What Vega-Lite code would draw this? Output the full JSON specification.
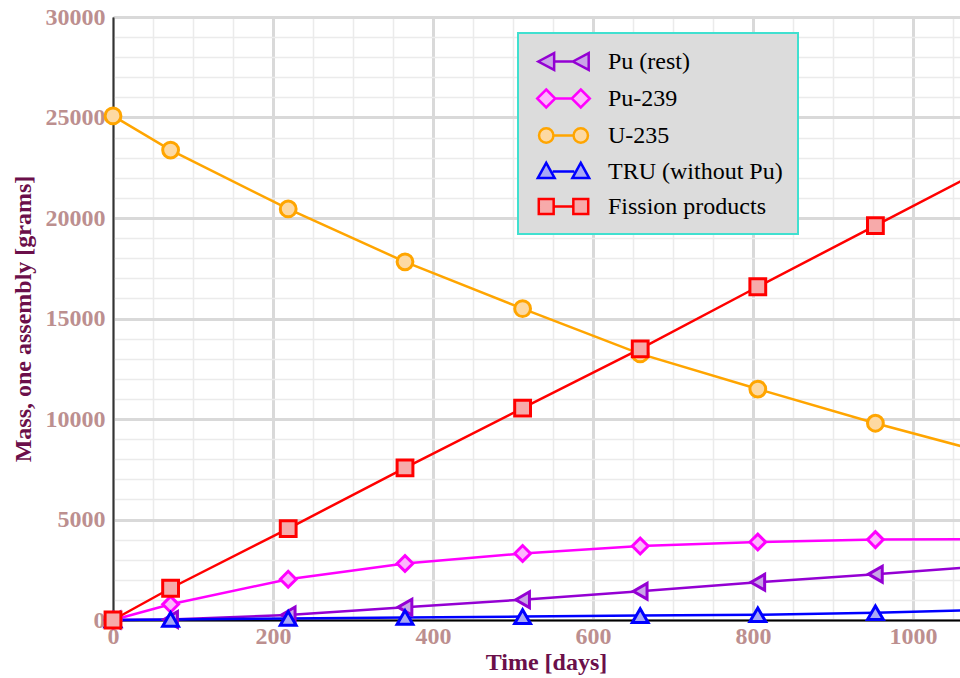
{
  "$schema": "https://vega.github.io/schema/vega-lite/v6.json",
  "width": 866,
  "height": 603,
  "autosize": {"type": "none"},
  "padding": {"left": 113, "top": 17, "right": 0, "bottom": 58},
  "background": "white",
  "config": {
    "view": {"stroke": "black", "strokeWidth": 1},
    "font": "Liberation Serif",
    "legend": {"strokeWidth": 2}
  },
  "data": {
    "values": [
      {"series": "Pu (rest)", "day": 0, "mass": 0},
      {"series": "Pu (rest)", "day": 72, "mass": 20},
      {"series": "Pu (rest)", "day": 219, "mass": 250},
      {"series": "Pu (rest)", "day": 365, "mass": 640},
      {"series": "Pu (rest)", "day": 512, "mass": 1010},
      {"series": "Pu (rest)", "day": 659, "mass": 1430},
      {"series": "Pu (rest)", "day": 806, "mass": 1880},
      {"series": "Pu (rest)", "day": 953, "mass": 2280},
      {"series": "Pu (rest)", "day": 1060, "mass": 2590},
      {"series": "Pu-239", "day": 0, "mass": 0},
      {"series": "Pu-239", "day": 72, "mass": 780},
      {"series": "Pu-239", "day": 219, "mass": 2030},
      {"series": "Pu-239", "day": 365, "mass": 2810},
      {"series": "Pu-239", "day": 512, "mass": 3310},
      {"series": "Pu-239", "day": 659, "mass": 3680},
      {"series": "Pu-239", "day": 806, "mass": 3880},
      {"series": "Pu-239", "day": 953, "mass": 4000},
      {"series": "Pu-239", "day": 1060, "mass": 4020},
      {"series": "U-235", "day": 0, "mass": 25080},
      {"series": "U-235", "day": 72, "mass": 23380},
      {"series": "U-235", "day": 219, "mass": 20450},
      {"series": "U-235", "day": 365, "mass": 17820},
      {"series": "U-235", "day": 512, "mass": 15490},
      {"series": "U-235", "day": 659, "mass": 13240},
      {"series": "U-235", "day": 806, "mass": 11490},
      {"series": "U-235", "day": 953, "mass": 9790},
      {"series": "U-235", "day": 1060, "mass": 8650},
      {"series": "TRU (without Pu)", "day": 0, "mass": 0},
      {"series": "TRU (without Pu)", "day": 72, "mass": 30},
      {"series": "TRU (without Pu)", "day": 219, "mass": 80},
      {"series": "TRU (without Pu)", "day": 365, "mass": 130},
      {"series": "TRU (without Pu)", "day": 512, "mass": 170},
      {"series": "TRU (without Pu)", "day": 659, "mass": 220},
      {"series": "TRU (without Pu)", "day": 806, "mass": 260},
      {"series": "TRU (without Pu)", "day": 953, "mass": 360},
      {"series": "TRU (without Pu)", "day": 1060, "mass": 470},
      {"series": "Fission products", "day": 0, "mass": 0},
      {"series": "Fission products", "day": 72, "mass": 1580},
      {"series": "Fission products", "day": 219, "mass": 4550},
      {"series": "Fission products", "day": 365, "mass": 7570},
      {"series": "Fission products", "day": 512, "mass": 10540},
      {"series": "Fission products", "day": 659, "mass": 13490},
      {"series": "Fission products", "day": 806, "mass": 16580},
      {"series": "Fission products", "day": 953, "mass": 19620},
      {"series": "Fission products", "day": 1060, "mass": 21840}
    ]
  },
  "encoding": {
    "x": {
      "field": "day",
      "type": "quantitative",
      "scale": {"domain": [0, 1082.5], "nice": false, "zero": false},
      "axis": {
        "values": [0, 50, 100, 150, 200, 250, 300, 350, 400, 450, 500, 550, 600, 650, 700, 750, 800, 850, 900, 950, 1000, 1050],
        "labelExpr": "datum.value % 200 === 0 ? datum.label : ''",
        "format": "d",
        "labelOverlap": false,
        "labelFlush": false,
        "grid": true,
        "gridColor": {"condition": {"test": "datum.value % 200 === 0", "value": "#d9d9d9"}, "value": "#ebebeb"},
        "gridWidth": {"condition": {"test": "datum.value % 200 === 0", "value": 3}, "value": 1.5},
        "ticks": false,
        "domain": true,
        "domainColor": "black",
        "domainWidth": 2,
        "labelFont": "Liberation Serif",
        "labelFontWeight": "bold",
        "labelFontSize": 24,
        "labelColor": "#bc8f8f",
        "labelPadding": 4,
        "title": "Time [days]",
        "titleFont": "Liberation Serif",
        "titleFontSize": 24,
        "titleFontWeight": "bold",
        "titleColor": "#6b0f4a",
        "titlePadding": 2
      }
    },
    "y": {
      "field": "mass",
      "type": "quantitative",
      "scale": {"domain": [0, 30000], "nice": false},
      "axis": {
        "values": [0, 1000, 2000, 3000, 4000, 5000, 6000, 7000, 8000, 9000, 10000, 11000, 12000, 13000, 14000, 15000, 16000, 17000, 18000, 19000, 20000, 21000, 22000, 23000, 24000, 25000, 26000, 27000, 28000, 29000, 30000],
        "labelExpr": "datum.value % 5000 === 0 ? datum.label : ''",
        "format": "d",
        "labelOverlap": false,
        "labelFlush": false,
        "grid": true,
        "gridColor": {"condition": {"test": "datum.value % 5000 === 0", "value": "#d9d9d9"}, "value": "#ebebeb"},
        "gridWidth": {"condition": {"test": "datum.value % 5000 === 0", "value": 3}, "value": 1.5},
        "ticks": false,
        "domain": true,
        "domainColor": "#333333",
        "domainWidth": 2,
        "labelFont": "Liberation Serif",
        "labelFontWeight": "bold",
        "labelFontSize": 24,
        "labelColor": "#bc8f8f",
        "labelPadding": 8,
        "title": "Mass, one assembly [grams]",
        "titleFont": "Liberation Serif",
        "titleFontSize": 24,
        "titleFontWeight": "bold",
        "titleColor": "#6b0f4a",
        "titlePadding": 10
      }
    }
  },
  "layer": [
    {
      "mark": {"type": "line", "strokeWidth": 2.5},
      "encoding": {
        "stroke": {
          "field": "series",
          "type": "nominal",
          "legend": null,
          "scale": {
            "domain": ["Pu (rest)", "Pu-239", "U-235", "TRU (without Pu)", "Fission products"],
            "range": ["#9400d3", "#ff00ff", "#ffa500", "#0000ff", "#ff0000"]
          }
        }
      }
    },
    {
      "transform": [{"filter": "datum.day < 1000"}],
      "mark": {"type": "point", "size": 250, "strokeWidth": 3, "opacity": 1, "fillOpacity": 1},
      "encoding": {
        "stroke": {
          "field": "series",
          "type": "nominal",
          "legend": null,
          "scale": {
            "domain": ["Pu (rest)", "Pu-239", "U-235", "TRU (without Pu)", "Fission products"],
            "range": ["#9400d3", "#ff00ff", "#ffa500", "#0000ff", "#ff0000"]
          }
        },
        "fill": {
          "field": "series",
          "type": "nominal",
          "legend": null,
          "scale": {
            "domain": ["Pu (rest)", "Pu-239", "U-235", "TRU (without Pu)", "Fission products"],
            "range": ["#c9a6e6", "#fdb6fd", "#fdd9a2", "#a8a8f5", "#f7aaaa"]
          }
        },
        "shape": {
          "field": "series",
          "type": "nominal",
          "legend": null,
          "scale": {
            "domain": ["Pu (rest)", "Pu-239", "U-235", "TRU (without Pu)", "Fission products"],
            "range": ["triangle-left", "diamond", "circle", "triangle-up", "square"]
          }
        }
      }
    },
    {
      "mark": {"type": "point", "opacity": 0, "filled": false},
      "encoding": {
        "stroke": {
          "field": "series",
          "type": "nominal",
          "scale": {
            "domain": ["Pu (rest)", "Pu-239", "U-235", "TRU (without Pu)", "Fission products"],
            "range": ["#9400d3", "#ff00ff", "#ffa500", "#0000ff", "#ff0000"]
          },
          "legend": {"title": null}
        },
        "fill": {
          "field": "series",
          "type": "nominal",
          "scale": {
            "domain": ["Pu (rest)", "Pu-239", "U-235", "TRU (without Pu)", "Fission products"],
            "range": ["#c9a6e6", "#fdb6fd", "#fdd9a2", "#a8a8f5", "#f7aaaa"]
          },
          "legend": {"title": null}
        },
        "shape": {
          "field": "series",
          "type": "nominal",
          "scale": {
            "domain": ["Pu (rest)", "Pu-239", "U-235", "TRU (without Pu)", "Fission products"],
            "range": [
              "M -2.1 0 L -0.78 -0.7 L -0.78 0.7 Z M 0.78 0 L 2.1 -0.7 L 2.1 0.7 Z M -0.78 0 L 0.78 0",
              "M -1.44 -0.75 L -0.69 0 L -1.44 0.75 L -2.19 0 Z M 1.44 -0.75 L 2.19 0 L 1.44 0.75 L 0.69 0 Z M -0.69 0 L 0.69 0",
              "M -2.04 0 A 0.6 0.6 0 1 0 -0.84 0 A 0.6 0.6 0 1 0 -2.04 0 Z M 0.84 0 A 0.6 0.6 0 1 0 2.04 0 A 0.6 0.6 0 1 0 0.84 0 Z M -0.84 0 L 0.84 0",
              "M -1.44 -0.72 L -0.74 0.55 L -2.14 0.55 Z M 1.44 -0.72 L 2.14 0.55 L 0.74 0.55 Z M -0.9 0 L 0.9 0",
              "M -2.06 -0.62 L -0.82 -0.62 L -0.82 0.62 L -2.06 0.62 Z M 0.82 -0.62 L 2.06 -0.62 L 2.06 0.62 L 0.82 0.62 Z M -0.82 0 L 0.82 0"
            ]
          },
          "legend": {
            "title": null,
            "orient": "none",
            "legendX": 405,
            "legendY": 16,
            "fillColor": "#dcdcdc",
            "strokeColor": "#40e0d0",
            "padding": 15,
            "rowPadding": 9,
            "symbolOffset": 17,
            "labelOffset": 31,
            "labelFont": "Liberation Serif",
            "labelFontSize": 24,
            "labelColor": "black",
            "labelLimit": 400,
            "symbolSize": 576,
            "symbolStrokeWidth": 2.5,
            "symbolOpacity": 1
          }
        }
      }
    }
  ],
  "resolve": {"scale": {"shape": "independent", "stroke": "independent", "fill": "independent"}}
}
